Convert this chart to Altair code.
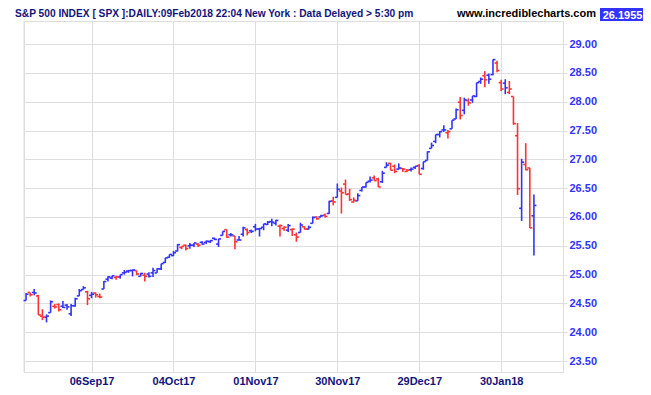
import altair as alt
import pandas as pd

# S&P 500 daily bars, Aug 14 2017 .. Feb 9 2018 (index value / 100)
dates = [
    "14Aug17","15Aug17","16Aug17","17Aug17","18Aug17","21Aug17","22Aug17","23Aug17","24Aug17","25Aug17",
    "28Aug17","29Aug17","30Aug17","31Aug17","01Sep17","05Sep17","06Sep17","07Sep17","08Sep17","11Sep17",
    "12Sep17","13Sep17","14Sep17","15Sep17","18Sep17","19Sep17","20Sep17","21Sep17","22Sep17","25Sep17",
    "26Sep17","27Sep17","28Sep17","29Sep17","02Oct17","03Oct17","04Oct17","05Oct17","06Oct17","09Oct17",
    "10Oct17","11Oct17","12Oct17","13Oct17","16Oct17","17Oct17","18Oct17","19Oct17","20Oct17","23Oct17",
    "24Oct17","25Oct17","26Oct17","27Oct17","30Oct17","31Oct17","01Nov17","02Nov17","03Nov17","06Nov17",
    "07Nov17","08Nov17","09Nov17","10Nov17","13Nov17","14Nov17","15Nov17","16Nov17","17Nov17","20Nov17",
    "21Nov17","22Nov17","24Nov17","27Nov17","28Nov17","29Nov17","30Nov17","01Dec17","04Dec17","05Dec17",
    "06Dec17","07Dec17","08Dec17","11Dec17","12Dec17","13Dec17","14Dec17","15Dec17","18Dec17","19Dec17",
    "20Dec17","21Dec17","22Dec17","26Dec17","27Dec17","28Dec17","29Dec17","02Jan18","03Jan18","04Jan18",
    "05Jan18","08Jan18","09Jan18","10Jan18","11Jan18","12Jan18","16Jan18","17Jan18","18Jan18","19Jan18",
    "22Jan18","23Jan18","24Jan18","25Jan18","26Jan18","29Jan18","30Jan18","31Jan18","01Feb18","02Feb18",
    "05Feb18","06Feb18","07Feb18","08Feb18","09Feb18",
]
opens = [
    24.55,24.69,24.69,24.63,24.28,24.26,24.34,24.45,24.48,24.45,
    24.47,24.32,24.46,24.63,24.74,24.70,24.64,24.68,24.62,24.75,
    24.92,24.94,24.95,24.96,25.03,25.06,25.07,25.07,24.97,24.99,
    25.01,25.03,25.03,25.10,25.21,25.30,25.33,25.41,25.47,25.51,
    25.50,25.51,25.53,25.56,25.56,25.57,25.63,25.53,25.68,25.78,
    25.69,25.67,25.60,25.70,25.78,25.76,25.83,25.79,25.82,25.87,
    25.92,25.89,25.84,25.80,25.77,25.78,25.69,25.73,25.83,25.79,
    25.89,26.00,26.00,26.03,26.06,26.28,26.34,26.45,26.57,26.40,
    26.26,26.28,26.46,26.52,26.62,26.68,26.66,26.61,26.86,26.93,
    26.88,26.83,26.84,26.79,26.82,26.86,26.89,26.84,26.98,27.19,
    27.31,27.43,27.51,27.46,27.53,27.70,27.99,27.85,28.02,28.03,
    28.09,28.35,28.45,28.46,28.47,28.67,28.33,28.32,28.16,28.09,
    27.41,26.15,26.91,26.85,26.02,
]
highs = [
    24.68,24.69,24.75,24.65,24.40,24.31,24.55,24.49,24.50,24.54,
    24.49,24.49,24.60,24.75,24.80,24.72,24.70,24.69,24.67,24.89,
    24.97,24.98,24.98,25.00,25.08,25.08,25.09,25.07,25.03,25.03,
    25.04,25.12,25.11,25.19,25.29,25.35,25.41,25.53,25.49,25.52,
    25.55,25.55,25.55,25.58,25.59,25.60,25.64,25.62,25.75,25.78,
    25.72,25.67,25.67,25.83,25.80,25.78,25.88,25.81,25.88,25.93,
    25.97,25.95,25.87,25.84,25.88,25.80,25.73,25.90,25.84,25.85,
    26.01,26.01,26.04,26.06,26.28,26.35,26.58,26.51,26.65,26.49,
    26.34,26.41,26.52,26.60,26.70,26.72,26.68,26.80,26.95,26.94,
    26.91,26.93,26.85,26.83,26.86,26.88,26.92,26.96,27.14,27.29,
    27.43,27.49,27.59,27.51,27.68,27.88,28.08,28.07,28.06,28.10,
    28.33,28.42,28.53,28.49,28.73,28.71,28.38,28.39,28.36,28.09,
    27.63,27.01,27.28,26.85,26.39,
]
lows = [
    24.55,24.62,24.64,24.30,24.21,24.17,24.34,24.41,24.36,24.42,
    24.39,24.28,24.44,24.63,24.74,24.47,24.59,24.60,24.59,24.75,
    24.88,24.92,24.91,24.93,25.00,25.03,24.97,24.99,24.97,24.88,
    24.95,24.96,25.03,25.08,25.20,25.29,25.32,25.40,25.44,25.42,
    25.45,25.48,25.48,25.52,25.53,25.55,25.60,25.48,25.68,25.64,
    25.66,25.44,25.60,25.66,25.68,25.72,25.75,25.66,25.77,25.86,
    25.84,25.85,25.66,25.76,25.74,25.67,25.57,25.73,25.78,25.78,
    25.89,25.95,26.00,25.99,26.05,26.20,26.34,26.06,26.39,26.28,
    26.25,26.28,26.44,26.51,26.60,26.63,26.52,26.59,26.86,26.81,
    26.76,26.82,26.78,26.78,26.79,26.83,26.74,26.82,26.98,27.19,
    27.28,27.38,27.48,27.36,27.53,27.70,27.69,27.78,27.93,27.98,
    28.08,28.31,28.25,28.31,28.46,28.51,28.18,28.13,28.13,27.60,
    26.38,25.93,26.81,25.81,25.33,
]
closes = [
    24.66,24.65,24.68,24.30,24.26,24.28,24.53,24.44,24.39,24.43,
    24.44,24.46,24.58,24.72,24.77,24.58,24.66,24.65,24.61,24.88,
    24.96,24.98,24.96,25.00,25.04,25.07,25.08,25.01,25.02,24.97,
    24.97,25.07,25.10,25.19,25.29,25.35,25.38,25.52,25.49,25.45,
    25.51,25.55,25.51,25.53,25.58,25.59,25.61,25.62,25.75,25.65,
    25.69,25.57,25.60,25.81,25.73,25.75,25.79,25.80,25.88,25.91,
    25.91,25.94,25.85,25.82,25.85,25.79,25.65,25.86,25.79,25.82,
    25.99,25.97,26.02,26.01,26.27,26.26,26.48,26.42,26.39,26.30,
    26.29,26.37,26.52,26.60,26.64,26.63,26.52,26.76,26.90,26.81,
    26.79,26.85,26.83,26.81,26.83,26.88,26.74,26.96,27.13,27.24,
    27.43,27.48,27.51,27.48,27.68,27.86,27.76,28.03,27.98,28.10,
    28.33,28.39,28.38,28.39,28.73,28.54,28.22,28.24,28.22,27.62,
    26.49,26.95,26.82,25.81,26.20,
]
prev_close_first = 24.41

tick_idx = [16, 36, 56, 76, 96, 116]
tick_lab = ["06Sep17", "04Oct17", "01Nov17", "30Nov17", "29Dec17", "30Jan18"]
y_ticks = [23.5, 24.0, 24.5, 25.0, 25.5, 26.0, 26.5, 27.0, 27.5, 28.0, 28.5, 29.0]

header = "S&P 500 INDEX [ SPX ]:DAILY:09Feb2018 22:04 New York : Data Delayed > 5:30 pm"
site = "www.incrediblecharts.com"
last_val = "26.1955"

prev = [prev_close_first] + closes[:-1]
df = pd.DataFrame({
    "i": list(range(len(closes))),
    "date": dates,
    "o": opens, "h": highs, "l": lows, "c": closes,
    "dir": ["up" if c >= p else "down" for c, p in zip(closes, prev)],
})

W, H = 539, 351
GRID = "#dedede"
NAVY = "#13137a"
BLUE = "#3333ff"
RED = "#ff3333"
FONT = "Liberation Sans, Arial, sans-serif"

label_expr = " : ".join(f"datum.value == {v} ? '{t}'" for v, t in zip(tick_idx, tick_lab)) + " : ''"

xscale = alt.Scale(domain=[-0.5, 131.1], nice=False, zero=False)
yscale = alt.Scale(domain=[23.31, 29.4], nice=False, zero=False)
xaxis = alt.Axis(values=tick_idx, labelExpr=label_expr, grid=True, gridColor=GRID, gridWidth=1,
                 domain=True, domainColor=GRID, ticks=False, labelFont=FONT, labelFontSize=11,
                 labelFontWeight="bold", labelColor=NAVY, labelPadding=3, title=None)
yaxis = alt.Axis(orient="right", values=y_ticks, format=".2f", grid=True, gridColor=GRID, gridWidth=1,
                 domain=True, domainColor=GRID, ticks=True, tickColor=GRID, tickSize=4,
                 labelFont=FONT, labelFontSize=11, labelFontWeight="bold", labelColor=BLUE,
                 labelPadding=2, title=None)
color = alt.Color("dir:N", scale=alt.Scale(domain=["up", "down"], range=[BLUE, RED]), legend=None)

SW = 1.6
base = alt.Chart(df)
hl = base.mark_rule(strokeWidth=SW).encode(
    x=alt.X("i:Q", scale=xscale, axis=xaxis),
    y=alt.Y("l:Q", scale=yscale, axis=yaxis),
    y2="h:Q",
    color=color,
)
op = base.mark_rule(strokeWidth=SW, xOffset=-2.5).encode(
    x=alt.X("i:Q", scale=xscale, axis=xaxis), x2="i:Q",
    y=alt.Y("o:Q", scale=yscale, axis=yaxis), color=color,
)
cl = base.mark_rule(strokeWidth=SW, x2Offset=2.5).encode(
    x=alt.X("i:Q", scale=xscale, axis=xaxis), x2="i:Q",
    y=alt.Y("c:Q", scale=yscale, axis=yaxis), color=color,
)

left_border = alt.Chart(pd.DataFrame({"a": [0]})).mark_rule(color=GRID, strokeWidth=1).encode(
    x=alt.value(0), y=alt.value(0), y2=alt.value(H)
)

hdr = alt.Chart(pd.DataFrame({"t": [header]})).mark_text(
    align="left", baseline="alphabetic", font=FONT, fontSize=10.2, fontWeight="bold", color=NAVY
).encode(text="t:N", x=alt.value(-9), y=alt.value(-4))

st = alt.Chart(pd.DataFrame({"t": [site]})).mark_text(
    align="left", baseline="alphabetic", font=FONT, fontSize=11, fontWeight="bold", color="black"
).encode(text="t:N", x=alt.value(433), y=alt.value(-4))

box = alt.Chart(pd.DataFrame({"a": [0]})).mark_rect(color="#3333ff").encode(
    x=alt.value(576), x2=alt.value(621), y=alt.value(-13), y2=alt.value(0)
)
bt = alt.Chart(pd.DataFrame({"t": [last_val]})).mark_text(
    align="center", baseline="alphabetic", font=FONT, fontSize=11, fontWeight="bold", color="white"
).encode(text="t:N", x=alt.value(598.5), y=alt.value(-2.5))

chart = alt.layer(left_border, hl, op, cl, hdr, st, box, bt).properties(
    width=W, height=H,
    padding={"left": 16, "top": 13, "right": 80, "bottom": 16},
    autosize=alt.AutoSizeParams(type="none"),
).configure_view(stroke=None).configure(background="white")

chart.save("out.html", embed_options={"renderer": "svg", "actions": False})
